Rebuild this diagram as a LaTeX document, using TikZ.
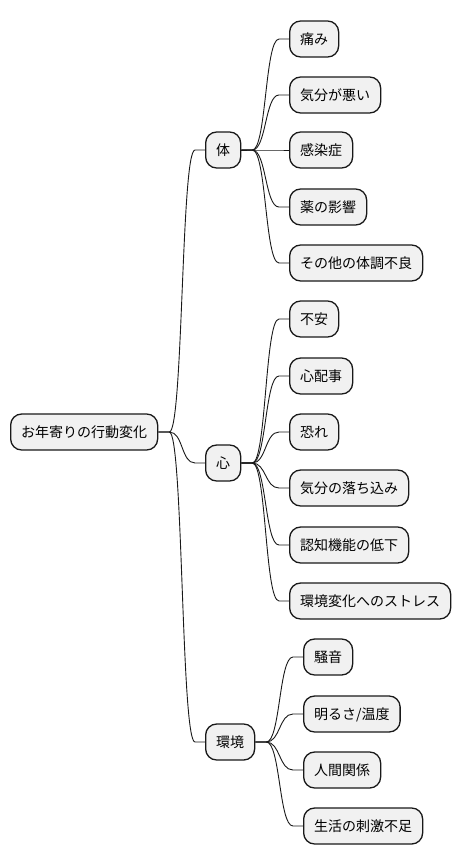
\documentclass[tikz,border=0pt]{standalone}
\usepackage{fontspec}
\setmainfont{Noto Sans CJK JP}
\usetikzlibrary{positioning}

\begin{document}
\begin{tikzpicture}[x=1pt,y=-1pt]
\tikzset{
  topic/.style={draw=black!90, fill=black!5.5, line width=1.3pt, rounded corners=11pt,
    anchor=west, minimum height=36pt, inner xsep=10.5pt, inner ysep=0pt,
    text height=12.3pt, text depth=1.7pt, font=\fontsize{14}{16}\selectfont},
  edge/.style={draw=black!90, line width=0.9pt}
}
\useasboundingbox (0,0) rectangle (460,865);
% ---------- root and first level ----------
\node[topic] (root) at (10,432) {お年寄りの行動変化};
\node[topic] (tai) at (205,150) {体};
\node[topic] (kokoro) at (205,463) {心};
\node[topic] (kankyo) at (205,742) {環境};
% ---------- 体 ----------
\node[topic] (itami) at (289,39) {痛み};
\node[topic] (kibun) at (289,95) {気分が悪い};
\node[topic] (kansen) at (289,150) {感染症};
\node[topic] (kusuri) at (289,207) {薬の影響};
\node[topic] (sonota) at (289,263) {その他の体調不良};
% ---------- 心 ----------
\node[topic] (fuan) at (289,319) {不安};
\node[topic] (shinpai) at (289,376) {心配事};
\node[topic] (osore) at (289,432) {恐れ};
\node[topic] (ochikomi) at (289,488) {気分の落ち込み};
\node[topic] (ninchi) at (289,545) {認知機能の低下};
\node[topic] (stress) at (289,601) {環境変化へのストレス};
% ---------- 環境 ----------
\node[topic] (souon) at (303,657) {騒音};
\node[topic] (akarusa) at (303,714) {明るさ/温度};
\node[topic] (ningen) at (303,770) {人間関係};
\node[topic] (shigeki) at (303,826) {生活の刺激不足};
% ---------- connectors ----------
\foreach \p/\c in {root/tai, root/kokoro, root/kankyo,
    tai/itami, tai/kibun, tai/kansen, tai/kusuri, tai/sonota,
    kokoro/fuan, kokoro/shinpai, kokoro/osore, kokoro/ochikomi, kokoro/ninchi, kokoro/stress,
    kankyo/souon, kankyo/akarusa, kankyo/ningen, kankyo/shigeki}
  \draw[edge] (\p.east) -- ++(11,0) .. controls +(14,0) and +(-14,0) .. ([xshift=-10pt]\c.west) -- (\c.west);
\end{tikzpicture}
\end{document}
